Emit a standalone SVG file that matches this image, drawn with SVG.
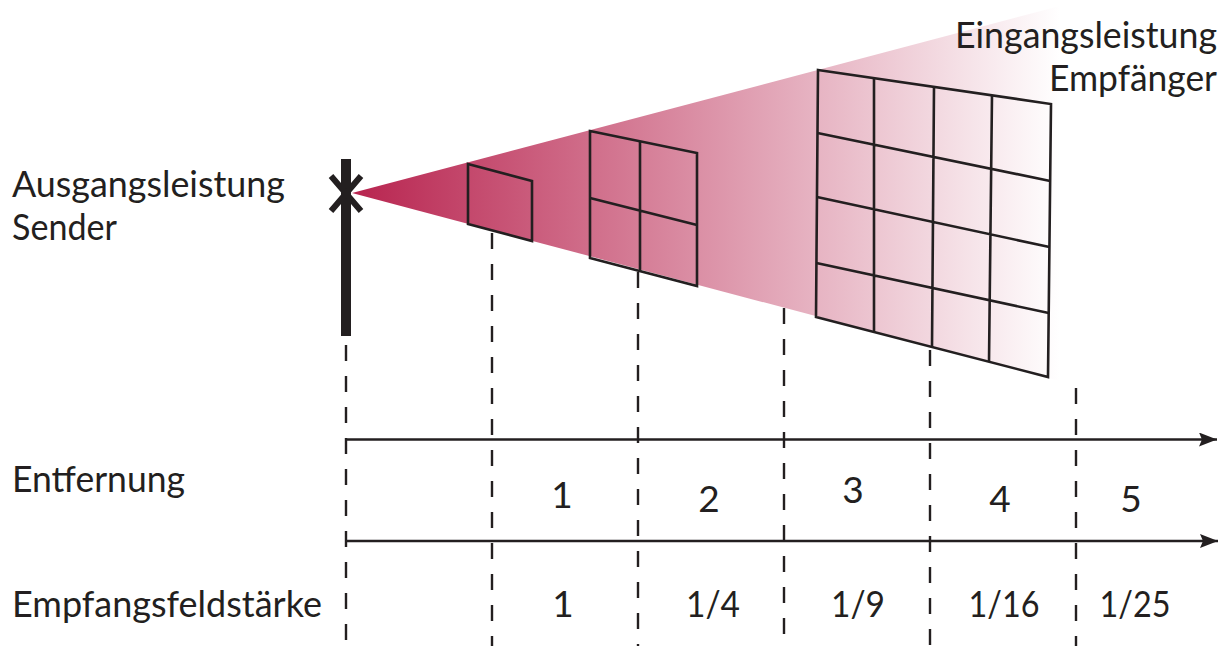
<svg xmlns="http://www.w3.org/2000/svg" width="1224" height="646" viewBox="0 0 1224 646">
  <style>
    .t { font-family: Lato, "Noto Sans", "Liberation Sans", sans-serif; font-size: 37px; font-weight: 400; fill: #231f20; }
    .m { text-anchor: middle; }
    .e { text-anchor: end; }
    .g { fill: none; stroke: #231f20; stroke-width: 2.6; stroke-linejoin: miter; }
    .d { stroke: #231f20; stroke-width: 2.4; stroke-dasharray: 16 15; fill: none; }
    .ax { stroke: #231f20; stroke-width: 2.6; fill: none; }
  </style>
  <defs>
    <linearGradient id="fade" gradientUnits="userSpaceOnUse" x1="352" y1="0" x2="1060" y2="0">
      <stop offset="0" stop-color="#b8244f"/>
      <stop offset="1" stop-color="#ffffff"/>
    </linearGradient>
    <marker id="arr" markerUnits="userSpaceOnUse" markerWidth="20" markerHeight="16" refX="18" refY="7" orient="auto">
      <path d="M0,0 L18,7 L0,14 L3,7 Z" fill="#231f20"/>
    </marker>
  </defs>

  <g id="cone">
    <polygon points="352,193 1060,6 1060,381" fill="url(#fade)"/>
  </g>

  <g id="antenna">
    <rect x="341" y="159" width="10" height="177" fill="#231f20"/>
    <path d="M331,176 L361,211 M361,176 L331,211" stroke="#231f20" stroke-width="6" fill="none"/>
  </g>

  <g id="area1">
    <polygon class="g" points="468,164 532,181 532,241 468,224"/>
  </g>

  <g id="area4">
    <polygon class="g" points="590,131 697,153 697,286 590,258"/>
    <path class="g" d="M640,141 L640,271 M590,198 L697,225"/>
  </g>

  <g id="area16">
    <polygon class="g" points="818,70 1051,104 1048,377 816,317"/>
    <path class="g" d="M874,78 L874,332 M934,87 L932,347 M992,95 L989,362 M817.5,133 L1050.2,181 M817,197 L1049.4,247 M816.4,263 L1048.7,313"/>
  </g>

  <g id="connectors">
    <line class="d" x1="346" y1="345" x2="346" y2="646"/>
    <line class="d" x1="492" y1="233" x2="492" y2="646"/>
    <line class="d" x1="638" y1="272" x2="638" y2="646"/>
    <line class="d" x1="784" y1="308" x2="784" y2="646"/>
    <line class="d" x1="930" y1="350" x2="930" y2="646"/>
    <line class="d" x1="1076" y1="388" x2="1076" y2="646"/>
    <line class="ax" x1="346" y1="439.5" x2="1217" y2="439.5" marker-end="url(#arr)"/>
    <line class="ax" x1="346" y1="541" x2="1218" y2="541" marker-end="url(#arr)"/>
  </g>

  <g id="labels">
    <text class="t" x="12" y="197" textLength="273" lengthAdjust="spacingAndGlyphs">Ausgangsleistung</text>
    <text class="t" x="12" y="240" textLength="105" lengthAdjust="spacingAndGlyphs">Sender</text>
    <text class="t e" x="1217" y="48" textLength="262" lengthAdjust="spacingAndGlyphs">Eingangsleistung</text>
    <text class="t e" x="1217" y="91" textLength="168" lengthAdjust="spacingAndGlyphs">Empfänger</text>
    <text class="t" x="12" y="492" textLength="173" lengthAdjust="spacingAndGlyphs">Entfernung</text>
    <text class="t" x="12" y="617" textLength="310" lengthAdjust="spacingAndGlyphs">Empfangsfeldstärke</text>
  </g>

  <g id="distances">
    <text class="t m" x="562" y="508">1</text>
    <text class="t m" x="709" y="512">2</text>
    <text class="t m" x="853" y="503">3</text>
    <text class="t m" x="1000" y="512">4</text>
    <text class="t m" x="1131" y="512">5</text>
  </g>

  <g id="strengths">
    <text class="t m" x="563" y="617">1</text>
    <text class="t m" x="713" y="617" textLength="54" lengthAdjust="spacingAndGlyphs">1/4</text>
    <text class="t m" x="858" y="617" textLength="54" lengthAdjust="spacingAndGlyphs">1/9</text>
    <text class="t m" x="1004" y="617" textLength="71" lengthAdjust="spacingAndGlyphs">1/16</text>
    <text class="t m" x="1135" y="617" textLength="71" lengthAdjust="spacingAndGlyphs">1/25</text>
  </g>
</svg>
